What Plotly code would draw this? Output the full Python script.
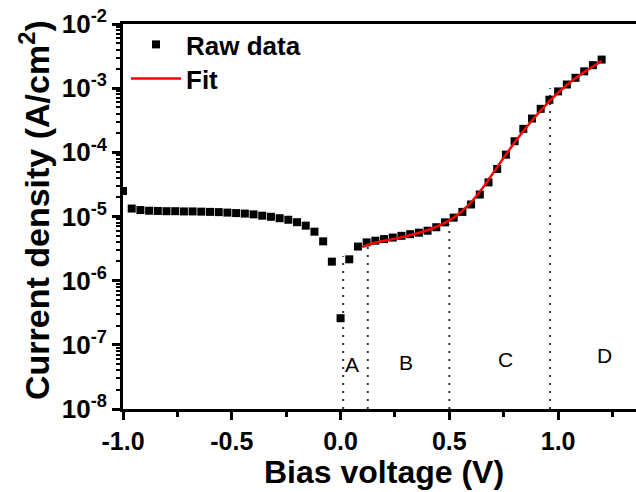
import plotly.graph_objects as go

# ---------------- data ----------------
raw_v = [-1.00, -0.96, -0.92, -0.88, -0.84, -0.80, -0.76, -0.72, -0.68, -0.64,
         -0.60, -0.56, -0.52, -0.48, -0.44, -0.40, -0.36, -0.32, -0.28, -0.24,
         -0.20, -0.16, -0.12, -0.08, -0.04, 0.00, 0.04, 0.08, 0.12, 0.16,
         0.20, 0.24, 0.28, 0.32, 0.36, 0.40, 0.44, 0.48, 0.52, 0.56,
         0.60, 0.64, 0.68, 0.72, 0.76, 0.80, 0.84, 0.88, 0.92, 0.96,
         1.00, 1.04, 1.08, 1.12, 1.16, 1.20]
raw_j = [2.5e-5, 1.33e-5, 1.26e-5, 1.23e-5, 1.22e-5, 1.21e-5, 1.21e-5, 1.20e-5, 1.20e-5, 1.19e-5,
         1.18e-5, 1.17e-5, 1.15e-5, 1.13e-5, 1.11e-5, 1.08e-5, 1.03e-5, 9.9e-6, 9.4e-6, 8.9e-6,
         8.15e-6, 7.2e-6, 5.8e-6, 4.1e-6, 1.98e-6, 2.6e-7, 2.15e-6, 3.4e-6, 3.95e-6, 4.2e-6,
         4.45e-6, 4.7e-6, 5.0e-6, 5.3e-6, 5.6e-6, 6.0e-6, 6.8e-6, 8.1e-6, 9.6e-6, 1.18e-5,
         1.54e-5, 2.2e-5, 3.4e-5, 5.5e-5, 9.2e-5, 1.49e-4, 2.32e-4, 3.36e-4, 4.76e-4, 6.6e-4,
         8.9e-4, 1.14e-3, 1.45e-3, 1.83e-3, 2.28e-3, 2.79e-3]

fit_v = [0.10, 0.14, 0.18, 0.22, 0.26, 0.30, 0.34, 0.38, 0.42, 0.46,
         0.50, 0.54, 0.58, 0.62, 0.66, 0.70, 0.74, 0.78, 0.82, 0.86,
         0.90, 0.94, 0.98, 1.02, 1.06, 1.10, 1.14, 1.18, 1.20]
fit_j = [3.35e-6, 3.75e-6, 4.05e-6, 4.3e-6, 4.6e-6, 4.95e-6, 5.35e-6, 5.85e-6, 6.5e-6, 7.4e-6,
         8.7e-6, 1.07e-5, 1.42e-5, 2.0e-5, 3.0e-5, 4.7e-5, 7.4e-5, 1.15e-4, 1.75e-4, 2.6e-4,
         3.75e-4, 5.3e-4, 7.3e-4, 9.8e-4, 1.27e-3, 1.6e-3, 1.97e-3, 2.4e-3, 2.65e-3]

# region boundaries (dotted lines): x position, top value
bound_v = [0.012, 0.125, 0.50, 0.963]
bound_top = [2.4e-6, 5.2e-6, 7.5e-6, 1.0e-3]
bound_bottom = 1e-8

region_labels = ["A", "B", "C", "D"]
region_x = [0.053, 0.30, 0.76, 1.211]
region_logy = [-7.31, -7.27, -7.23, -7.16]

x_tickvals = [-1.0, -0.5, 0.0, 0.5, 1.0]
x_ticktext = ["-1.0", "-0.5", "0.0", "0.5", "1.0"]
x_minor = [-0.75, -0.25, 0.25, 0.75, 1.25]
y_exps = [-8, -7, -6, -5, -4, -3, -2]

FONT = "Liberation Sans, Arial, sans-serif"

fig = go.Figure()

for bv, bt in zip(bound_v, bound_top):
    fig.add_trace(go.Scatter(x=[bv, bv], y=[bound_bottom, bt], mode="lines",
                             line=dict(color="#333333", width=2, dash="2px,6px"),
                             showlegend=False, hoverinfo="skip"))

fig.add_trace(go.Scatter(x=raw_v, y=raw_j, mode="markers", name="Raw data",
                         legend="legend",
                         marker=dict(symbol="square", size=8, color="black",
                                     line=dict(width=0))))
fig.add_trace(go.Scatter(x=fit_v, y=fit_j, mode="lines", name="Fit",
                         legend="legend2",
                         line=dict(color="#ff0000", width=2.5, shape="spline")))

for lab, lx, ly in zip(region_labels, region_x, region_logy):
    fig.add_annotation(x=lx, y=ly, xref="x", yref="y", text=lab, showarrow=False,
                       font=dict(family=FONT, size=21, color="black"),
                       xanchor="center", yanchor="middle")

# axis titles
fig.add_annotation(x=(384 - 123) / 513, y=(409 - 472) / 385, xref="paper", yref="paper",
                   text="<b>Bias voltage (V)</b>", showarrow=False,
                   font=dict(family=FONT, size=32, color="black"),
                   xanchor="center", yanchor="middle")
fig.add_annotation(x=(34 - 123) / 513, y=(409 - 210) / 385, xref="paper", yref="paper",
                   text="<b>Current density (A/cm<sup>2</sup>)</b>", showarrow=False,
                   textangle=-90,
                   font=dict(family=FONT, size=34, color="black"),
                   xanchor="center", yanchor="middle")

minor_y = [m * 10.0 ** e for e in y_exps[:-1] for m in range(2, 10)]

fig.update_xaxes(range=[-1.0, 1.358], showline=True, linewidth=3, linecolor="black",
                 mirror=True, ticks="outside", ticklen=8, tickwidth=2.5, tickcolor="black",
                 tickmode="array", tickvals=x_tickvals,
                 ticktext=["<b>%s</b>" % t for t in x_ticktext],
                 tickfont=dict(family=FONT, size=25, color="black"),
                 minor=dict(tickmode="array", tickvals=x_minor, ticks="outside",
                            ticklen=5, tickwidth=2.5, tickcolor="black"),
                 showgrid=False, zeroline=False)
fig.update_yaxes(type="log", range=[-8, -2], showline=True, linewidth=3, linecolor="black",
                 mirror=False, ticks="outside", ticklen=8, tickwidth=2.5, tickcolor="black",
                 tickmode="array", tickvals=[10.0 ** e for e in y_exps],
                 ticktext=["<b>10<sup>%d</sup></b>" % e for e in y_exps],
                 tickfont=dict(family=FONT, size=26, color="black"),
                 minor=dict(tickmode="array", tickvals=minor_y, ticks="outside",
                            ticklen=4, tickwidth=1.5, tickcolor="black"),
                 showgrid=False, zeroline=False)

legend_common = dict(xanchor="left", yanchor="top", bgcolor="rgba(0,0,0,0)", borderwidth=0,
                     font=dict(family=FONT, size=26, color="black", weight="bold"),
                     itemwidth=50)

fig.update_layout(
    width=636, height=492,
    margin=dict(l=123, r=0, t=24, b=83),
    paper_bgcolor="white", plot_bgcolor="white",
    font=dict(family=FONT, color="black"),
    showlegend=True,
    legend=dict(x=3 / 513, y=(409 - 21) / 385, **legend_common),
    legend2=dict(x=3 / 513, y=(409 - 55) / 385, **legend_common),
)

fig.write_html("out.html")
